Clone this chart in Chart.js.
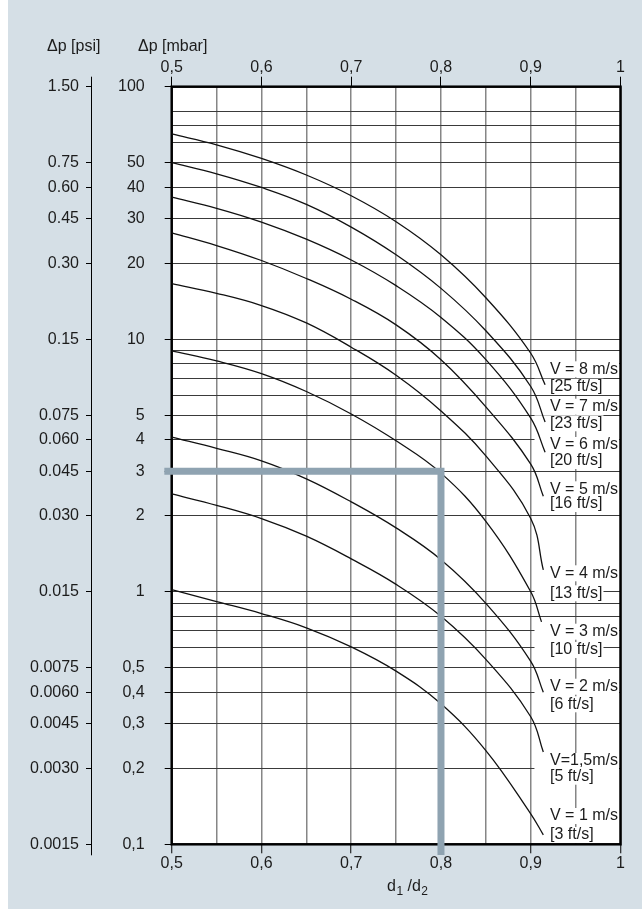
<!DOCTYPE html>
<html>
<head>
<meta charset="utf-8">
<script src="https://cdn.jsdelivr.net/npm/chart.js@4.4.1/dist/chart.umd.min.js"></script>
<style>
  html, body { margin: 0; padding: 0; background: #ffffff; }
  #wrap { position: relative; width: 642px; height: 909px; }
  canvas { display: block; }
</style>
</head>
<body>
<div id="wrap"><canvas id="c" width="642" height="909"></canvas></div>
<script>
// Diameter ratio d1/d2 sampled along each curve (last point = end of curve)
const ratio = [0.5, 0.55, 0.6, 0.65, 0.7, 0.75, 0.8, 0.85, 0.9];
const endRatio = [0.916, 0.916, 0.916, 0.914, 0.914, 0.912, 0.914, 0.914, 0.914];

// Pressure loss in mbar for each flow velocity
const dpV8  = [65, 58.9, 52.0, 44.7, 37.0, 29.2, 21.6, 14.6, 8.8, 6.6];
const dpV7  = [50, 45.2, 39.9, 34.2, 27.8, 21.6, 15.9, 10.8, 6.5, 4.7];
const dpV6  = [36.5, 33.0, 29.1, 24.9, 20.6, 16.3, 12.2, 8.3, 4.87, 3.57];
const dpV5  = [26.4, 23.5, 20.5, 17.4, 14.4, 11.4, 8.3, 5.4, 3.2, 2.39];
const dpV4  = [16.6, 15.2, 13.6, 11.6, 9.3, 7.2, 5.2, 3.45, 1.95, 1.22];
const dpV3  = [9.0, 8.21, 7.31, 6.21, 5.06, 3.96, 2.95, 1.9, 1.0, 0.76];
const dpV2  = [4.1, 3.7, 3.3, 2.8, 2.27, 1.79, 1.34, 0.9, 0.53, 0.4];
const dpV15 = [2.44, 2.2, 1.95, 1.66, 1.35, 1.07, 0.8, 0.54, 0.32, 0.232];
const dpV1  = [1.02, 0.915, 0.82, 0.72, 0.605, 0.485, 0.36, 0.235, 0.132, 0.109];

const curveSeries = [dpV8, dpV7, dpV6, dpV5, dpV4, dpV3, dpV2, dpV15, dpV1];
const velocityText = ['V = 8 m/s', 'V = 7 m/s', 'V = 6 m/s', 'V = 5 m/s', 'V = 4 m/s',
                      'V = 3 m/s', 'V = 2 m/s', 'V=1,5m/s', 'V = 1 m/s'];
const feetText = ['[25 ft/s]', '[23 ft/s]', '[20 ft/s]', '[16 ft/s]', '[13 ft/s]',
                  '[10 ft/s]', '[6 ft/s]', '[5 ft/s]', '[3 ft/s]'];

// Worked example: d1/d2 = 0.8 read across at 3 mbar
const exampleX = [0.4918, 0.8, 0.8];
const exampleY = [3, 3, 0.0907];

// Axis ticks
const xGrid = [0.5, 0.55, 0.6, 0.65, 0.7, 0.75, 0.8, 0.85, 0.9, 0.95, 1];
const xLabelValues = [0.5, 0.6, 0.7, 0.8, 0.9, 1];
const xLabelText = ['0,5', '0,6', '0,7', '0,8', '0,9', '1'];

const mbarGrid = [100, 80, 70, 60, 50, 40, 30, 20, 10, 9, 8, 7, 6, 5, 4, 3, 2,
                  1, 0.9, 0.8, 0.7, 0.6, 0.5, 0.4, 0.3, 0.2, 0.1];
const mbarLabelValues = [100, 50, 40, 30, 20, 10, 5, 4, 3, 2, 1, 0.5, 0.4, 0.3, 0.2, 0.1];
const mbarLabelText = ['100', '50', '40', '30', '20', '10', '5', '4', '3', '2', '1',
                       '0,5', '0,4', '0,3', '0,2', '0,1'];

const psiValues = [1.5, 0.75, 0.6, 0.45, 0.3, 0.15, 0.075, 0.06, 0.045, 0.03, 0.015,
                   0.0075, 0.006, 0.0045, 0.003, 0.0015];
const psiText = ['1.50', '0.75', '0.60', '0.45', '0.30', '0.15', '0.075', '0.060', '0.045',
                 '0.030', '0.015', '0.0075', '0.0060', '0.0045', '0.0030', '0.0015'];

// ---- styling ----
const FONT = '"Liberation Sans", Arial, Helvetica, sans-serif';
const FSIZE = 16;
const TEXT = '#1c1c1c';
const BG = '#d5dfe6';
const labelRows = [[369.3, 386.7], [406.7, 423.3], [445, 461], [489.3, 504], [573.3, 593.3],
                   [631.7, 650], [686.7, 704.3], [761, 776.7], [816, 835]];

function findIndex(list, v) {
  for (let i = 0; i < list.length; i++) {
    if (Math.abs(list[i] - v) < 1e-9 * Math.max(1, Math.abs(v))) return i;
  }
  return -1;
}

const datasets = [{
  label: 'example',
  data: exampleX.map((x, i) => ({ x: x, y: exampleY[i] })),
  borderColor: '#8fa3b1',
  borderWidth: 7,
  borderCapStyle: 'butt',
  borderJoinStyle: 'miter',
  pointRadius: 0,
  tension: 0,
  clip: false
}];
curveSeries.forEach((vals, k) => {
  const xs = ratio.concat([endRatio[k]]);
  datasets.push({
    label: velocityText[k],
    data: vals.map((v, i) => ({ x: xs[i], y: v })),
    borderColor: '#111111',
    borderWidth: 1.3,
    pointRadius: 0,
    tension: 0.4,
    clip: false
  });
});

const tickFont = { family: FONT, size: FSIZE };

const decorations = {
  id: 'decorations',
  beforeDraw(chart) {
    const ctx = chart.ctx;
    ctx.save();
    ctx.fillStyle = '#ffffff';
    ctx.fillRect(0, 0, chart.width, chart.height);
    ctx.fillStyle = BG;
    ctx.fillRect(8, 0, chart.width - 8, chart.height);
    const a = chart.chartArea;
    ctx.fillStyle = '#ffffff';
    ctx.fillRect(a.left, a.top, a.right - a.left, a.bottom - a.top);
    ctx.restore();
  },
  beforeDatasetsDraw(chart) {
    const ctx = chart.ctx;
    const a = chart.chartArea;
    ctx.save();
    // white panels behind curve labels
    ctx.font = FSIZE + 'px ' + FONT;
    ctx.fillStyle = '#ffffff';
    const boxLeft = a.right - 86;
    labelRows.forEach((row, k) => {
      [velocityText[k], feetText[k]].forEach((t, j) => {
        const w = ctx.measureText(t).width;
        const right = Math.min(550 + w + 1, a.right - 1.5);
        ctx.fillRect(boxLeft, row[j] - 8, right - boxLeft, 16);
      });
    });
    // frame of the plotting area
    ctx.strokeStyle = '#000000';
    ctx.lineWidth = 2.5;
    ctx.strokeRect(a.left, a.top, a.right - a.left, a.bottom - a.top);
    ctx.restore();
  },
  afterDatasetsDraw(chart) {
    const ctx = chart.ctx;
    const a = chart.chartArea;
    ctx.save();
    ctx.font = FSIZE + 'px ' + FONT;
    ctx.fillStyle = TEXT;
    ctx.textBaseline = 'middle';
    ctx.textAlign = 'left';
    labelRows.forEach((row, k) => {
      ctx.fillText(velocityText[k], 550, row[0]);
      ctx.fillText(feetText[k], 550, row[1]);
    });
    // psi axis line
    const psi = chart.scales.psi;
    ctx.strokeStyle = '#000000';
    ctx.lineWidth = 1;
    const px = Math.round(psi.right) - 0.5;
    ctx.beginPath();
    ctx.moveTo(px, a.top - 10);
    ctx.lineTo(px, a.bottom + 11);
    ctx.stroke();
    // axis titles
    ctx.textBaseline = 'alphabetic';
    ctx.textAlign = 'left';
    ctx.fillText('\u0394p [psi]', 47, 51);
    ctx.fillText('\u0394p [mbar]', 138, 51);
    // d1 /d2
    let x = 387;
    const by = 891;
    ctx.font = FSIZE + 'px ' + FONT;
    ctx.fillText('d', x, by); x += ctx.measureText('d').width;
    ctx.font = '12px ' + FONT;
    ctx.fillText('1', x + 0.5, by + 4); x += ctx.measureText('1').width + 0.5;
    ctx.font = FSIZE + 'px ' + FONT;
    ctx.fillText(' /d', x, by); x += ctx.measureText(' /d').width;
    ctx.font = '12px ' + FONT;
    ctx.fillText('2', x + 0.5, by + 4);
    ctx.restore();
  }
};

new Chart(document.getElementById('c'), {
  type: 'line',
  data: { datasets: datasets },
  plugins: [decorations],
  options: {
    responsive: false,
    animation: false,
    devicePixelRatio: 1,
    layout: { padding: { left: 0, right: 21.5, top: 0, bottom: 0 } },
    plugins: { legend: { display: false }, tooltip: { enabled: false }, title: { display: false } },
    scales: {
      x: {
        type: 'linear', position: 'bottom', min: 0.5, max: 1,
        afterBuildTicks: s => { s.ticks = xGrid.map(v => ({ value: v })); },
        afterFit: s => { s.height = 64.7; },
        border: { display: false },
        grid: {
          color: '#868686', lineWidth: 1.5, drawTicks: true, tickLength: 9, tickWidth: 1,
          tickColor: c => (c.tick && findIndex(xLabelValues, c.tick.value) >= 0) ? '#000' : 'rgba(0,0,0,0)'
        },
        ticks: {
          autoSkip: false, maxRotation: 0, padding: 1, color: TEXT, font: tickFont,
          callback: v => { const i = findIndex(xLabelValues, v); return i >= 0 ? xLabelText[i] : ''; }
        }
      },
      xTop: {
        type: 'linear', position: 'top', min: 0.5, max: 1,
        afterBuildTicks: s => { s.ticks = xGrid.map(v => ({ value: v })); },
        afterFit: s => { s.height = 86.7; },
        border: { display: false },
        grid: {
          drawOnChartArea: false, drawTicks: true, tickLength: 10, tickWidth: 1,
          tickColor: c => (c.tick && findIndex(xLabelValues, c.tick.value) >= 0) ? '#000' : 'rgba(0,0,0,0)'
        },
        ticks: {
          autoSkip: false, maxRotation: 0, padding: 0, color: TEXT, font: tickFont,
          callback: v => { const i = findIndex(xLabelValues, v); return i >= 0 ? xLabelText[i] : ''; }
        }
      },
      y: {
        type: 'logarithmic', position: 'left', min: 0.1, max: 100, weight: 0,
        afterBuildTicks: s => { s.ticks = mbarGrid.map(v => ({ value: v })); },
        afterFit: s => { s.width = 79.7; },
        border: { display: false },
        grid: {
          color: '#3a3a3a', lineWidth: 1, drawTicks: true, tickLength: 7, tickWidth: 1,
          tickColor: c => (c.tick && findIndex(mbarLabelValues, c.tick.value) >= 0) ? '#000' : 'rgba(0,0,0,0)'
        },
        ticks: {
          autoSkip: false, padding: 20, color: TEXT, font: tickFont,
          callback: v => { const i = findIndex(mbarLabelValues, v); return i >= 0 ? mbarLabelText[i] : ''; }
        }
      },
      psi: {
        type: 'logarithmic', position: 'left', min: 0.0015, max: 1.5, weight: 1,
        afterBuildTicks: s => { s.ticks = psiValues.map(v => ({ value: v })); },
        afterFit: s => { s.width = 92; },
        border: { display: false },
        grid: { drawOnChartArea: false, drawTicks: true, tickLength: 6, tickWidth: 1, tickColor: '#000' },
        ticks: {
          autoSkip: false, padding: 7, color: TEXT, font: tickFont,
          callback: v => { const i = findIndex(psiValues, v); return i >= 0 ? psiText[i] : ''; }
        }
      }
    }
  }
});
</script>
</body>
</html>
